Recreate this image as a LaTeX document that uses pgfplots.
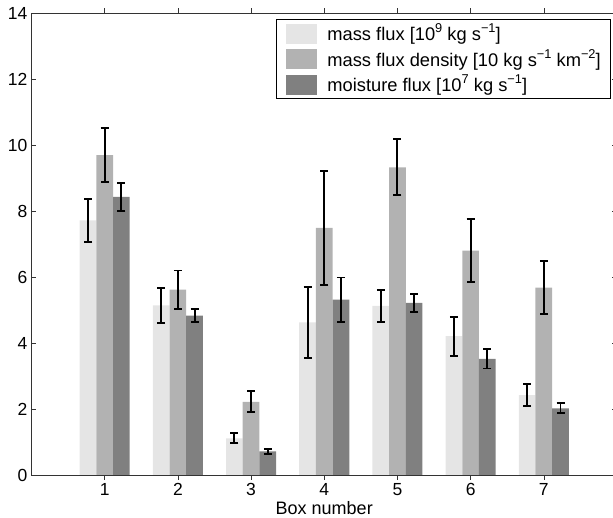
\documentclass[border=0pt]{standalone}
\usepackage{fontspec}
\setmainfont{Liberation Sans}
\usepackage{pgfplots}
\usepackage{pgfplotstable}
\pgfplotsset{compat=1.18}
\definecolor{c1}{gray}{0.9}
\definecolor{c2}{gray}{0.7}
\definecolor{c3}{gray}{0.5}
\newcommand\sups[1]{\raisebox{0.42em}{\fontsize{12.8}{13}\selectfont #1}}
\pgfplotstableread{
x y e
1 7.72 0.65
2 5.14 0.53
3 1.11 0.15
4 4.63 1.08
5 5.13 0.48
6 4.21 0.59
7 2.42 0.33
}\massflux
\pgfplotstableread{
x y e
1 9.70 0.82
2 5.62 0.58
3 2.22 0.32
4 7.49 1.72
5 9.33 0.85
6 6.80 0.95
7 5.68 0.80
}\density
\pgfplotstableread{
x y e
1 8.43 0.43
2 4.83 0.20
3 0.72 0.07
4 5.32 0.67
5 5.22 0.27
6 3.52 0.29
7 2.02 0.15
}\moisture
\begin{document}
\fontsize{17.5}{20}\selectfont
\begin{tikzpicture}
\begin{axis}[
  scale only axis, width=585.5pt, height=461.7pt,
  xmin=0, xmax=8, ymin=0, ymax=14,
  xtick={1,2,3,4,5,6,7}, ytick={0,2,4,6,8,10,12,14},
  tick align=inside, major tick length=5pt,
  axis line style={line width=0.6pt, black!80},
  every tick/.style={line width=0.6pt, black!80},
  /pgf/number format/assume math mode=true,
  ticklabel style={font=\fontsize{17.5}{20}\selectfont},
  xticklabel style={anchor=base, yshift=-16pt},
  yticklabel style={inner xsep=4pt},
  xlabel={Box number},
  xlabel style={font=\fontsize{18}{20}\selectfont, at={(axis description cs:0.5,0)}, anchor=base, yshift=-39.5pt},
  ybar=0pt, bar width=0.228,
  legend cell align=left,
  legend style={at={(1,1)}, anchor=north east, xshift=-6pt, yshift=-6pt,
    draw=black, line width=0.6pt, fill=white,
    font=\fontsize{18.3}{20}\selectfont,
    nodes={inner sep=0pt},
    inner xsep=10pt, inner ysep=4pt, row sep=5.5pt, column sep=10pt},
  error bars/y dir=both, error bars/y explicit,
  error bars/error bar style={draw=black, solid, line width=1.9pt},
  error bars/error mark options={rotate=90, draw=black, mark size=4pt, line width=1.9pt},
]
\addplot[fill=c1, draw=none,
  legend image code/.code={\fill[c1] (0pt,-10pt) rectangle (31pt,10pt);}]
  table[x=x, y=y, y error=e] {\massflux};
\addlegendentry{mass flux [10\sups{9} kg s\sups{−1}]}
\addplot[fill=c2, draw=none,
  legend image code/.code={\fill[c2] (0pt,-10pt) rectangle (31pt,10pt);}]
  table[x=x, y=y, y error=e] {\density};
\addlegendentry{mass flux density [10 kg s\sups{−1} km\sups{−2}]}
\addplot[fill=c3, draw=none,
  legend image code/.code={\fill[c3] (0pt,-10pt) rectangle (31pt,10pt);}]
  table[x=x, y=y, y error=e] {\moisture};
\addlegendentry{moisture flux [10\sups{7} kg s\sups{−1}]}
\coordinate (sw) at (rel axis cs:0,0);
\coordinate (ne) at (rel axis cs:1,1);
\end{axis}
\pgfresetboundingbox
\path ([xshift=-31.5pt,yshift=-43pt]sw) rectangle ([xshift=-4pt,yshift=13.3pt]ne);
\end{tikzpicture}
\end{document}
